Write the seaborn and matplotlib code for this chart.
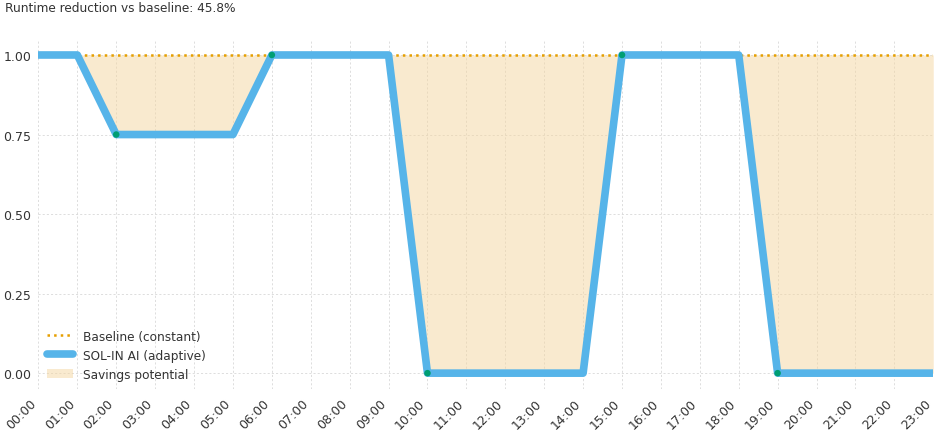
import matplotlib
matplotlib.use("Agg")
import matplotlib.pyplot as plt
import seaborn as sns
import pandas as pd

# =========================================================
# DATA
# =========================================================
hours = list(range(24))
hour_labels = [f"{h:02d}:00" for h in hours]
baseline = [1.0] * 24
adaptive = [1, 1, 0.75, 0.75, 0.75, 0.75, 1, 1, 1, 1,
            0, 0, 0, 0, 0, 1, 1, 1, 1, 0, 0, 0, 0, 0]
change_hours = [2, 6, 10, 15, 19]

df = pd.DataFrame({"hour": hours, "baseline": baseline, "adaptive": adaptive})
changes = df[df["hour"].isin(change_hours)]
reduction = 1 - sum(adaptive) / sum(baseline)

sns.set_theme(style="whitegrid")
plt.rcParams["font.family"] = ["DejaVu Sans"]

fig, ax = plt.subplots(figsize=(9.37, 4.31), dpi=100)
fig.subplots_adjust(left=0.041, right=0.996, top=0.907, bottom=0.095)

ax.fill_between(df["hour"], df["adaptive"], df["baseline"],
                color="#F5D7A1", alpha=0.5, linewidth=0, label="Savings potential")
sns.lineplot(data=df, x="hour", y="baseline", ax=ax, color="#E69F00",
             linestyle=":", linewidth=1.8, label="Baseline (constant)")
sns.lineplot(data=df, x="hour", y="adaptive", ax=ax, color="#56B4E9",
             linewidth=5.5, label="SOL-IN AI (adaptive)")
sns.scatterplot(data=changes, x="hour", y="adaptive", ax=ax, color="#009E73",
                s=22, edgecolor="none", zorder=5, legend=False)

ax.set_xlim(0, 23)
ax.set_ylim(-0.05, 1.05)
ax.set_xticks(hours)
ax.set_xticklabels(hour_labels, rotation=45, ha="right")
ax.set_yticks([0, 0.25, 0.5, 0.75, 1.0])
ax.set_yticklabels(["0.00", "0.25", "0.50", "0.75", "1.00"])
ax.set_xlabel("")
ax.set_ylabel("")
ax.tick_params(axis="both", labelsize=9, labelcolor="#333333", color="#555555",
               length=3, width=0.8, pad=2)
ax.grid(True, linestyle=(0, (2.5, 2.5)), color="#D8D8D8", linewidth=0.6)
ax.set_facecolor("white")
for s in ax.spines.values():
    s.set_visible(False)

handles, labels = ax.get_legend_handles_labels()
order = [labels.index("Baseline (constant)"), labels.index("SOL-IN AI (adaptive)"),
         labels.index("Savings potential")]
leg = ax.legend([handles[i] for i in order], [labels[i] for i in order],
                loc="lower left", frameon=False, fontsize=8.7,
                borderaxespad=0.3, handlelength=2.2, handletextpad=0.75, labelspacing=0.5)
for t in leg.get_texts():
    t.set_color("#333333")

fig.text(0.005, 0.995, f"Runtime reduction vs baseline: {reduction * 100:.1f}%",
         fontsize=8.7, color="#333333", ha="left", va="top")

plt.savefig("out.png", dpi=100)
plt.close()
